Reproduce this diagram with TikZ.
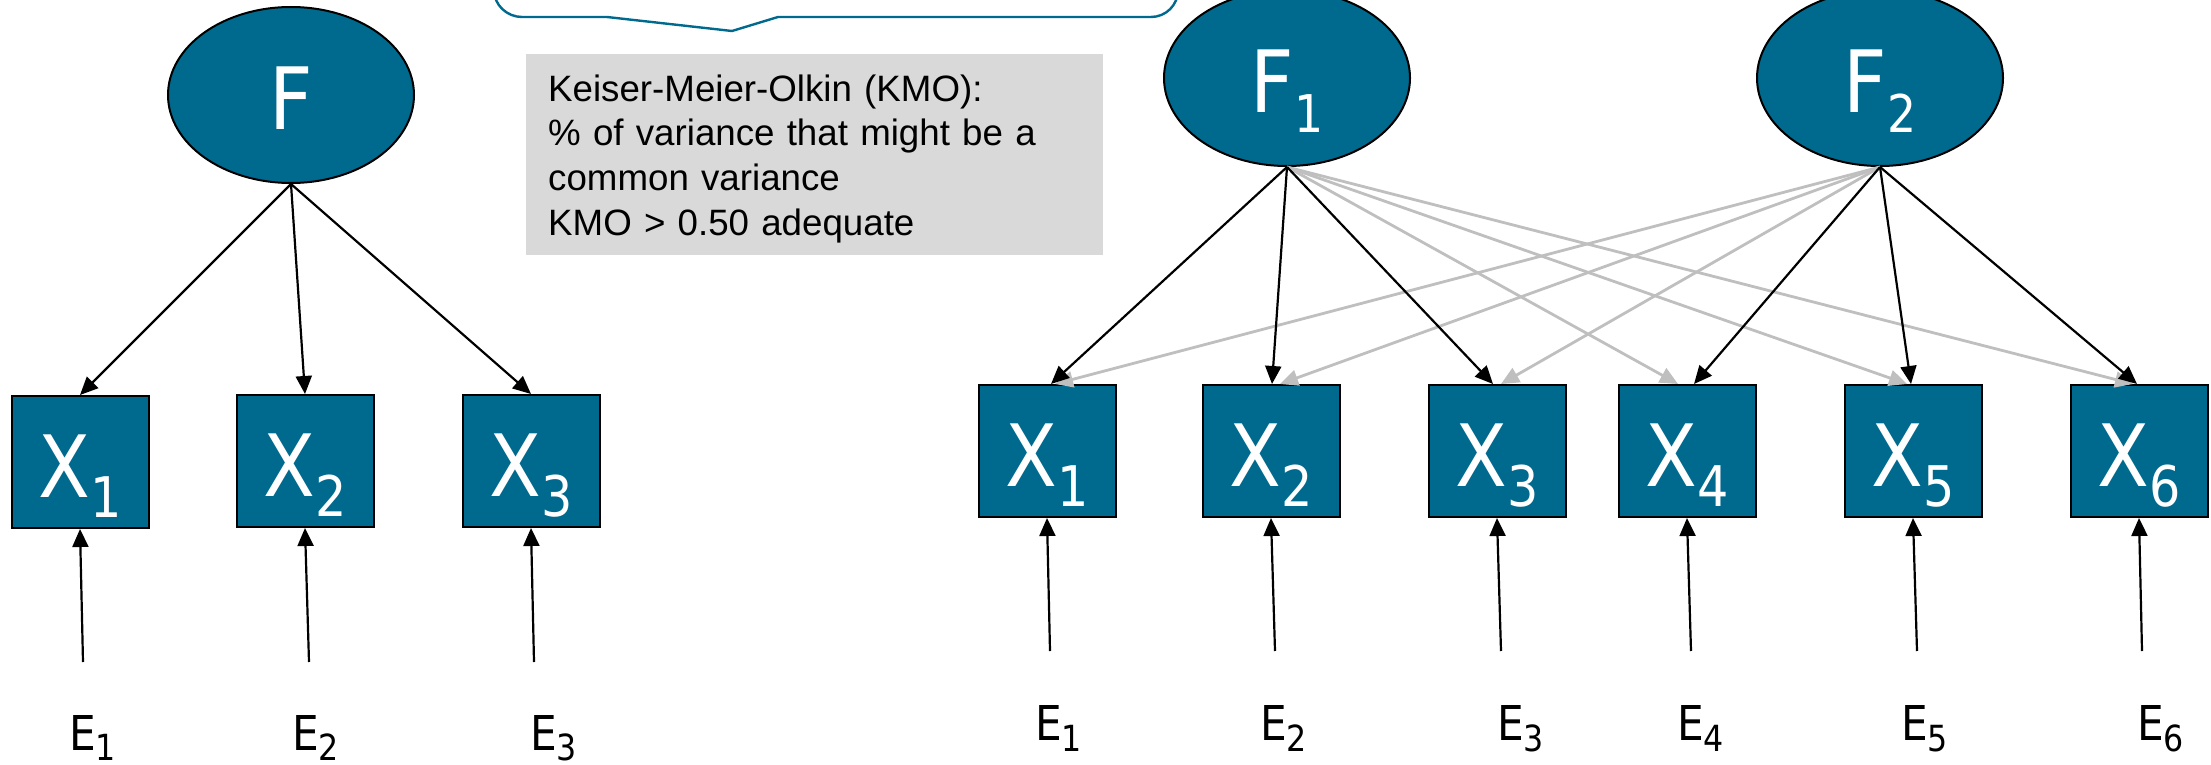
\documentclass[tikz,border=0pt]{standalone}
\usepackage{fontspec}
\setmainfont{Liberation Sans}
\newfontfamily\lblfont[FakeStretch=0.88]{DejaVu Sans}
\usetikzlibrary{shapes.geometric,arrows.meta,calc}

\definecolor{semteal}{RGB}{0,106,142}
\definecolor{keybg}{RGB}{217,217,217}
\definecolor{crossgrey}{RGB}{191,191,191}

% lowered index: size, drop, text
\newcommand\lowsub[3]{\raisebox{-#2}{\fontsize{#1}{#1}\selectfont #3}}

\begin{document}
\begin{tikzpicture}[x=1pt,y=-1pt,
  factor/.style={ellipse, draw=black, line width=2pt, fill=semteal, text=white,
    minimum width=246pt, minimum height=176pt, inner sep=0pt,
    text height=70pt, text depth=0pt, font=\lblfont\fontsize{86pt}{86pt}\selectfont},
  item/.style={rectangle, draw=black, line width=2pt, fill=semteal, text=white,
    minimum width=137pt, minimum height=132pt, inner sep=0pt,
    text height=70pt, text depth=0pt, font=\lblfont\fontsize{86pt}{86pt}\selectfont},
  errlab/.style={inner sep=0pt, anchor=base west, font=\lblfont\fontsize{48pt}{48pt}\selectfont},
  keybox/.style={fill=keybg, anchor=north west, inner xsep=22pt, inner ysep=0pt,
    text width=533pt, align=left, font=\fontsize{36.7pt}{44.7pt}\selectfont},
  load/.style={draw=black, line width=2.2pt, -{Triangle[length=18pt,width=16pt]}},
  cross/.style={draw=crossgrey, line width=2.8pt, -{Triangle[length=18pt,width=16pt]}},
  callout/.style={draw=semteal, line width=2.4pt}
]
\useasboundingbox (0,0) rectangle (2211,765);

% speech bubble hanging from the top edge
\draw[callout] (494,-60) -- (494,-10) .. controls (494,5) and (507,17) .. (522,17)
  -- (607,17) -- (732,31) -- (778,17) -- (1151,17)
  .. controls (1166,17) and (1178,5) .. (1178,-10) -- (1178,-60);

% KMO note
\node[keybox] (kmo) at (526,54) {\rule{0pt}{47pt}Keiser-Meier-Olkin (KMO):\\
  \% of variance that might be a\\
  common variance\\
  KMO > 0.50 adequate\rule[-20pt]{0pt}{20pt}};

% one-factor model
\node[factor] (F) at (291,95) {F};
\node[item] (A1) at (80,462) {X\lowsub{56pt}{20pt}{1}};
\node[item] (A2) at (305,461) {X\lowsub{56pt}{20pt}{2}};
\node[item] (A3) at (531,461) {X\lowsub{56pt}{20pt}{3}};
\node[errlab] (EA1) at (69,750) {E\lowsub{36pt}{10pt}{1}};
\node[errlab] (EA2) at (292,750) {E\lowsub{36pt}{10pt}{2}};
\node[errlab] (EA3) at (530,750) {E\lowsub{36pt}{10pt}{3}};
\coordinate (ea1) at (83,662);
\coordinate (ea2) at (309,662);
\coordinate (ea3) at (534,662);

\draw[load] (F.south) -- (A1.north);
\draw[load] (F.south) -- (A2.north);
\draw[load] (F.south) -- (A3.north);
\draw[load] (ea1) -- (A1.south);
\draw[load] (ea2) -- (A2.south);
\draw[load] (ea3) -- (A3.south);

% two-factor model
\node[factor] (F1) at (1287,78) {F\lowsub{52pt}{20pt}{1}};
\node[factor] (F2) at (1880,78) {F\lowsub{52pt}{20pt}{2}};
\node[item] (B1) at (1047,451) {X\lowsub{56pt}{20pt}{1}};
\node[item] (B2) at (1271,451) {X\lowsub{56pt}{20pt}{2}};
\node[item] (B3) at (1497,451) {X\lowsub{56pt}{20pt}{3}};
\node[item] (B4) at (1687,451) {X\lowsub{56pt}{20pt}{4}};
\node[item] (B5) at (1913,451) {X\lowsub{56pt}{20pt}{5}};
\node[item] (B6) at (2139,451) {X\lowsub{56pt}{20pt}{6}};
\node[errlab] (EB1) at (1035,740) {E\lowsub{36pt}{11pt}{1}};
\node[errlab] (EB2) at (1260,740) {E\lowsub{36pt}{11pt}{2}};
\node[errlab] (EB3) at (1497,740) {E\lowsub{36pt}{11pt}{3}};
\node[errlab] (EB4) at (1677,740) {E\lowsub{36pt}{11pt}{4}};
\node[errlab] (EB5) at (1901,740) {E\lowsub{36pt}{11pt}{5}};
\node[errlab] (EB6) at (2137,740) {E\lowsub{36pt}{11pt}{6}};
\coordinate (eb1) at (1050,651);
\coordinate (eb2) at (1275,651);
\coordinate (eb3) at (1501,651);
\coordinate (eb4) at (1691,651);
\coordinate (eb5) at (1917,651);
\coordinate (eb6) at (2142,651);

% cross loadings
\draw[cross] (F1.south) -- ([xshift=-9pt]B4.north);
\draw[cross] (F1.south) -- ([xshift=-6pt]B5.north);
\draw[cross] (F1.south) -- ([xshift=-6pt]B6.north);
\draw[cross] (F2.south) -- ([xshift=8pt]B1.north);
\draw[cross] (F2.south) -- ([xshift=9pt]B2.north);
\draw[cross] (F2.south) -- ([xshift=4pt]B3.north);

% main loadings
\draw[load] (F1.south) -- ([xshift=4pt]B1.north);
\draw[load] (F1.south) -- ([xshift=1pt]B2.north);
\draw[load] (F1.south) -- ([xshift=-4pt]B3.north);
\draw[load] (F2.south) -- ([xshift=7pt]B4.north);
\draw[load] (F2.south) -- ([xshift=-2pt]B5.north);
\draw[load] (F2.south) -- ([xshift=-2pt]B6.north);

\draw[load] (eb1) -- (B1.south);
\draw[load] (eb2) -- (B2.south);
\draw[load] (eb3) -- (B3.south);
\draw[load] (eb4) -- (B4.south);
\draw[load] (eb5) -- (B5.south);
\draw[load] (eb6) -- (B6.south);
\end{tikzpicture}
\end{document}
